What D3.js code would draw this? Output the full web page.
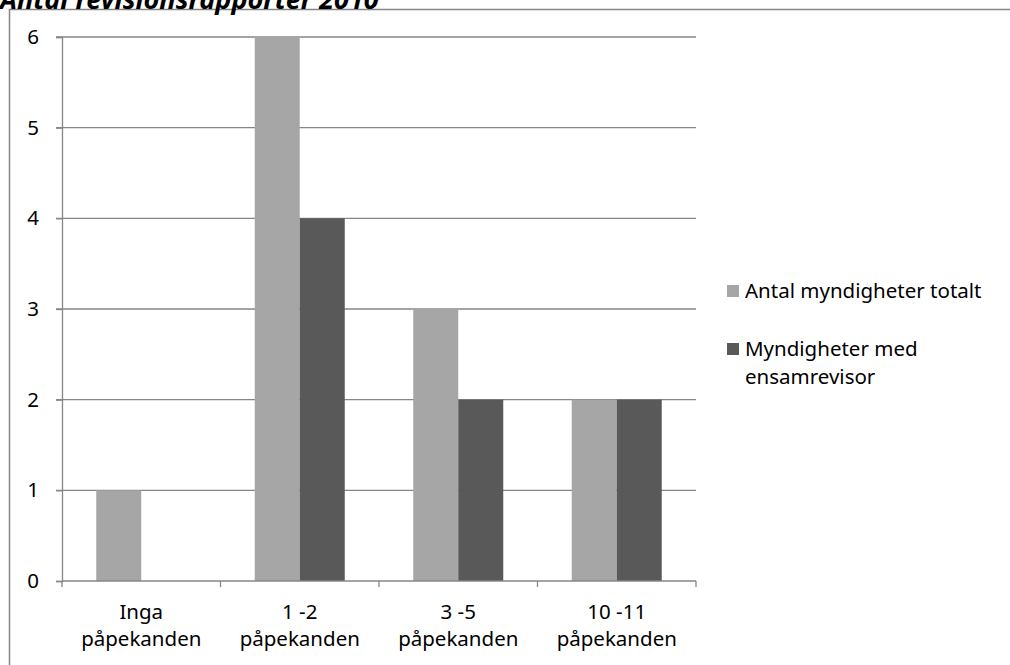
<!DOCTYPE html>
<html><head><meta charset="utf-8">
<script src="https://cdn.jsdelivr.net/npm/d3@7"></script>
<style>body{margin:0;background:#fff}svg{display:block}text{font-family:"Noto Sans",sans-serif;fill:#000}</style>
</head><body><svg id="c" width="1010" height="665"></svg>
<script>
const categories = [["Inga","påpekanden"],["1 -2","påpekanden"],["3 -5","påpekanden"],["10 -11","påpekanden"]];
const seriesNames = ["Antal myndigheter totalt", "Myndigheter med ensamrevisor"];
const totalt = [1, 6, 3, 2];
const ensam = [0, 4, 2, 2];
const yTicks = [0,1,2,3,4,5,6];
const title = "Antal revisionsrapporter 2010";
const colors = ["#a6a6a6", "#595959"];

(function(){
const svg = d3.select("#c");
const fs = 20.5;
svg.append("rect").attr("x",9.5).attr("y",9.5).attr("width",1010).attr("height",670)
  .attr("fill","none").attr("stroke","#868686").attr("stroke-width",1.5);
svg.append("text").attr("x",0).attr("y",9).attr("font-size",27).attr("font-weight","bold")
  .attr("font-style","italic").text(title);

const pl=62, pr=696, pt=37, pb=581;
const x = d3.scaleBand().domain(d3.range(categories.length)).range([pl,pr]).paddingInner(0).paddingOuter(0);
const y = d3.scaleLinear().domain([0,6]).range([pb,pt]);
const bw = 45;

svg.append("g").selectAll("line").data(yTicks.filter(d=>d>0)).join("line")
  .attr("x1",pl-6).attr("x2",pr).attr("y1",d=>y(d)).attr("y2",d=>y(d))
  .attr("stroke","#868686").attr("stroke-width",1.3);

const data = [totalt, ensam];
data.forEach((s,si)=>{
  svg.append("g").selectAll("rect").data(s).join("rect")
    .attr("x",(d,i)=>x(i)+x.bandwidth()/2 - bw + si*bw)
    .attr("width",bw)
    .attr("y",d=>y(d)).attr("height",d=>pb-y(d))
    .attr("fill",colors[si]);
});

const ya = svg.append("g").attr("transform",`translate(${pl},0)`)
  .call(d3.axisLeft(y).tickValues(yTicks).tickSize(6).tickPadding(17).tickFormat(d3.format("d")));
ya.select(".domain").attr("stroke","#868686").attr("stroke-width",1.3);
ya.selectAll(".tick line").attr("stroke","#868686").attr("stroke-width",1.3);
ya.selectAll("text").attr("font-size",fs).attr("font-family","'Noto Sans',sans-serif").attr("fill","#000");

svg.append("line").attr("x1",pl).attr("x2",pr).attr("y1",pb).attr("y2",pb)
  .attr("stroke","#868686").attr("stroke-width",1.3);
svg.append("g").selectAll("line").data(d3.range(categories.length+1)).join("line")
  .attr("x1",i=>pl+i*x.bandwidth()).attr("x2",i=>pl+i*x.bandwidth())
  .attr("y1",pb).attr("y2",pb+6).attr("stroke","#868686").attr("stroke-width",1.3);
const cl = svg.append("g").selectAll("text").data(categories).join("text")
  .attr("x",(d,i)=>x(i)+x.bandwidth()/2).attr("y",619).attr("text-anchor","middle").attr("font-size",fs);
cl.append("tspan").attr("x",(d,i)=>x(i)+x.bandwidth()/2).text(d=>d[0]);
cl.append("tspan").attr("x",(d,i)=>x(i)+x.bandwidth()/2).attr("dy",27).text(d=>d[1]);

const leg = [
  {name:["Antal myndigheter totalt"], c:colors[0], y:291},
  {name:["Myndigheter med","ensamrevisor"], c:colors[1], y:349}
];
leg.forEach(l=>{
  svg.append("rect").attr("x",727).attr("y",l.y-6).attr("width",12).attr("height",12).attr("fill",l.c);
  const t = svg.append("text").attr("x",745).attr("y",l.y+7).attr("font-size",fs);
  l.name.forEach((n,k)=>t.append("tspan").attr("x",745).attr("dy",k?28:0).text(n));
});
})();
</script></body></html>
